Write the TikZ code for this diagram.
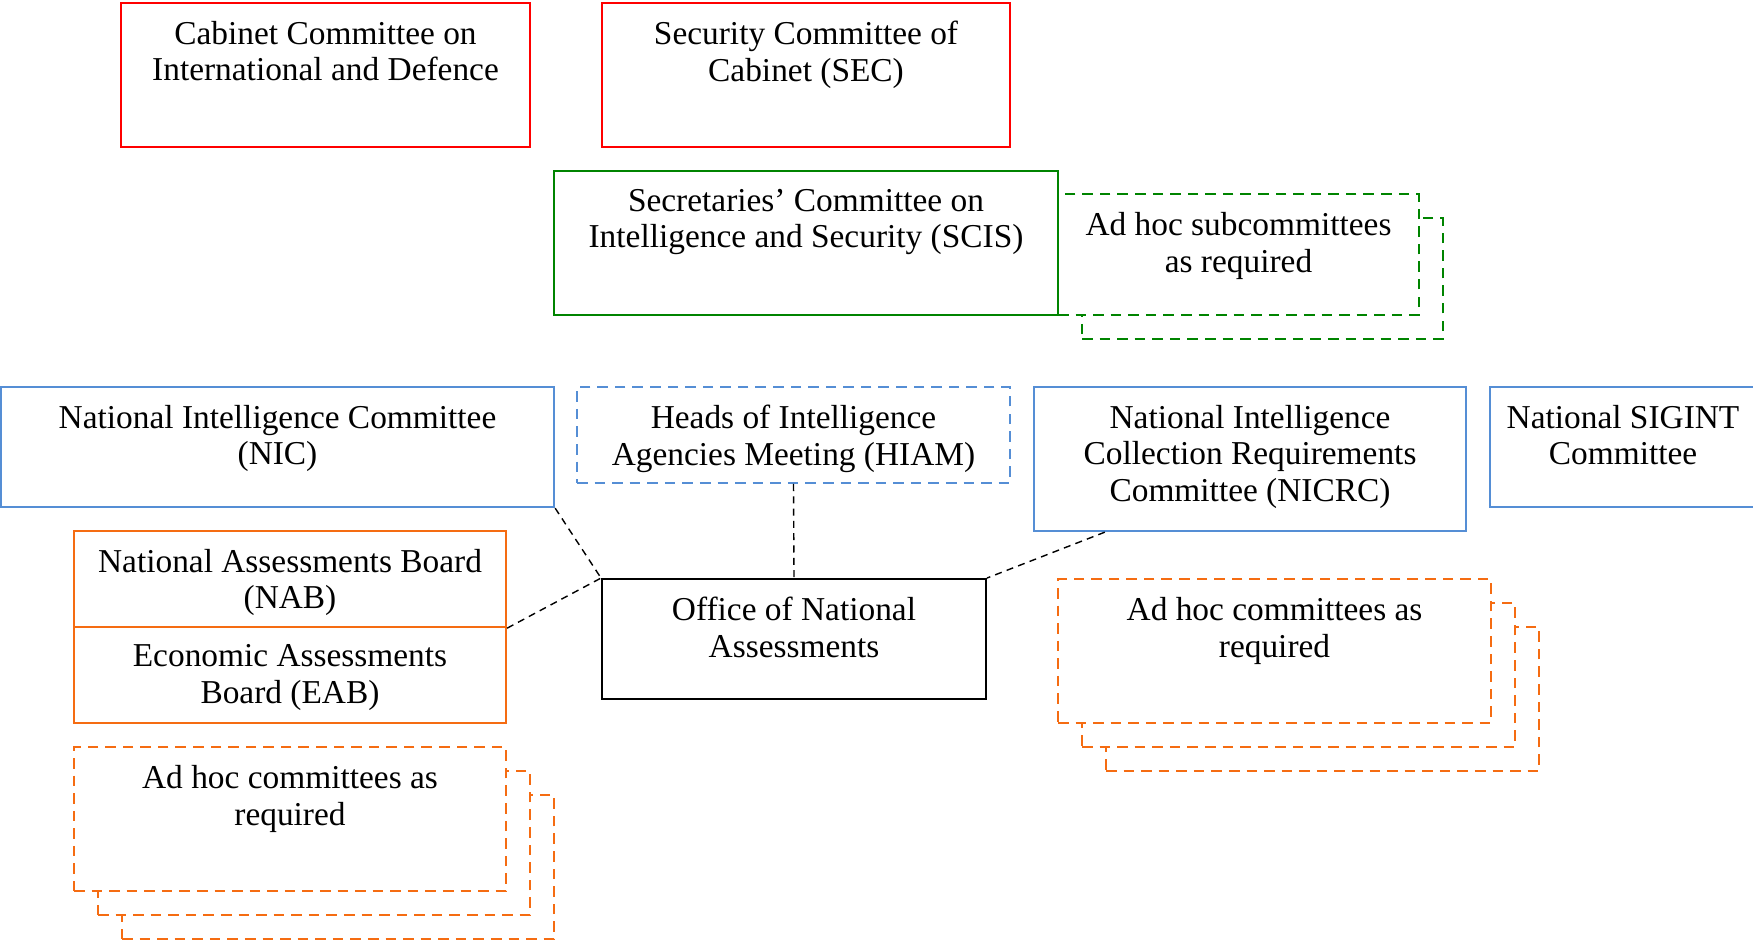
\documentclass[tikz,border=0pt]{standalone}
\usepackage{fontspec}
\setmainfont{Liberation Serif}
\usetikzlibrary{fit}
\definecolor{cabred}{RGB}{255,0,0}
\definecolor{secgreen}{RGB}{0,132,0}
\definecolor{nicblue}{RGB}{85,142,213}
\definecolor{naborange}{RGB}{245,108,18}
\tikzset{
  box/.style={draw=#1,line width=1.3pt,fill=white,inner sep=0pt},
  dbox/.style={box=#1,line width=1.1pt,dash pattern=on 6pt off 4pt},
  txt/.style={anchor=north,align=center,inner sep=0pt,font=\fontsize{19}{21}\selectfont},
  link/.style={draw,line width=0.8pt,dash pattern=on 4pt off 3pt}
}
\begin{document}
\begin{tikzpicture}[x=0.02cm,y=-0.02cm]
\useasboundingbox (0,0) rectangle (1753,944);
% cabinet level
\node[box=cabred,fit={(121,3) (530,147)}] (cab) {};
\node[txt] (cabt) at ([yshift=-10.6pt]cab.north) {Cabinet Committee on\\International and Defence};
\node[box=cabred,fit={(602,3) (1010,147)}] (sec) {};
\node[txt] (sect) at ([yshift=-10.6pt]sec.north) {Security Committee of\\Cabinet (SEC)};
% secretaries
\foreach \i in {1,0}
  \node[dbox=secgreen,fit={(1058+24*\i,194+24*\i) (1419+24*\i,315+24*\i)}] (sub\i) {};
\node[txt] (subt) at ([yshift=-10.6pt]sub0.north) {Ad hoc subcommittees\\as required};
\node[box=secgreen,fit={(554,171) (1058,315)}] (scis) {};
\node[txt] (scist) at ([yshift=-10.6pt]scis.north) {Secretaries’ Committee on\\Intelligence and Security (SCIS)};
% committees
\node[box=nicblue,fit={(1,387) (554,507)}] (nic) {};
\node[txt] (nict) at ([yshift=-10.6pt]nic.north) {National Intelligence Committee\\(NIC)};
\node[dbox=nicblue,fit={(577,387) (1010,483)}] (hiam) {};
\node[txt] (hiamt) at ([yshift=-10.6pt]hiam.north) {Heads of Intelligence\\Agencies Meeting (HIAM)};
\node[box=nicblue,fit={(1034,387) (1466,531)}] (nicrc) {};
\node[txt] (nicrct) at ([yshift=-10.6pt]nicrc.north) {National Intelligence\\Collection Requirements\\Committee (NICRC)};
\node[box=nicblue,fit={(1490,387) (1756,507)}] (sig) {};
\node[txt] (sigt) at ([yshift=-10.6pt]sig.north) {National SIGINT\\Committee};
% boards
\node[box=naborange,fit={(74,531) (506,627)}] (nab) {};
\node[txt] (nabt) at ([yshift=-10.6pt]nab.north) {National Assessments Board\\(NAB)};
\node[box=naborange,fit={(74,627) (506,723)}] (eab) {};
\node[txt] (eabt) at ([yshift=-10.6pt]eab.north) {Economic Assessments\\Board (EAB)};
\foreach \i in {2,1,0}{
  \node[dbox=naborange,fit={(74+24*\i,747+24*\i) (506+24*\i,891+24*\i)}] (adl\i) {};
  \node[dbox=naborange,fit={(1058+24*\i,579+24*\i) (1491+24*\i,723+24*\i)}] (adr\i) {};
}
\node[txt] (adlt) at ([yshift=-10.6pt]adl0.north) {Ad hoc committees as\\required};
\node[txt] (adrt) at ([yshift=-10.6pt]adr0.north) {Ad hoc committees as\\required};
% office
\node[box=black,line width=1.1pt,fit={(602,579) (986,699)}] (ona) {};
\node[txt] (onat) at ([yshift=-10.6pt]ona.north) {Office of National\\Assessments};
% links
\path[link] (nic.south east) -- (ona.north west);
\path[link] (nab.south east) -- (ona.north west);
\path[link] (hiam.south) -- (ona.north);
\path[link] ([xshift=1.44cm]nicrc.south west) -- (ona.north east);
\end{tikzpicture}
\end{document}
